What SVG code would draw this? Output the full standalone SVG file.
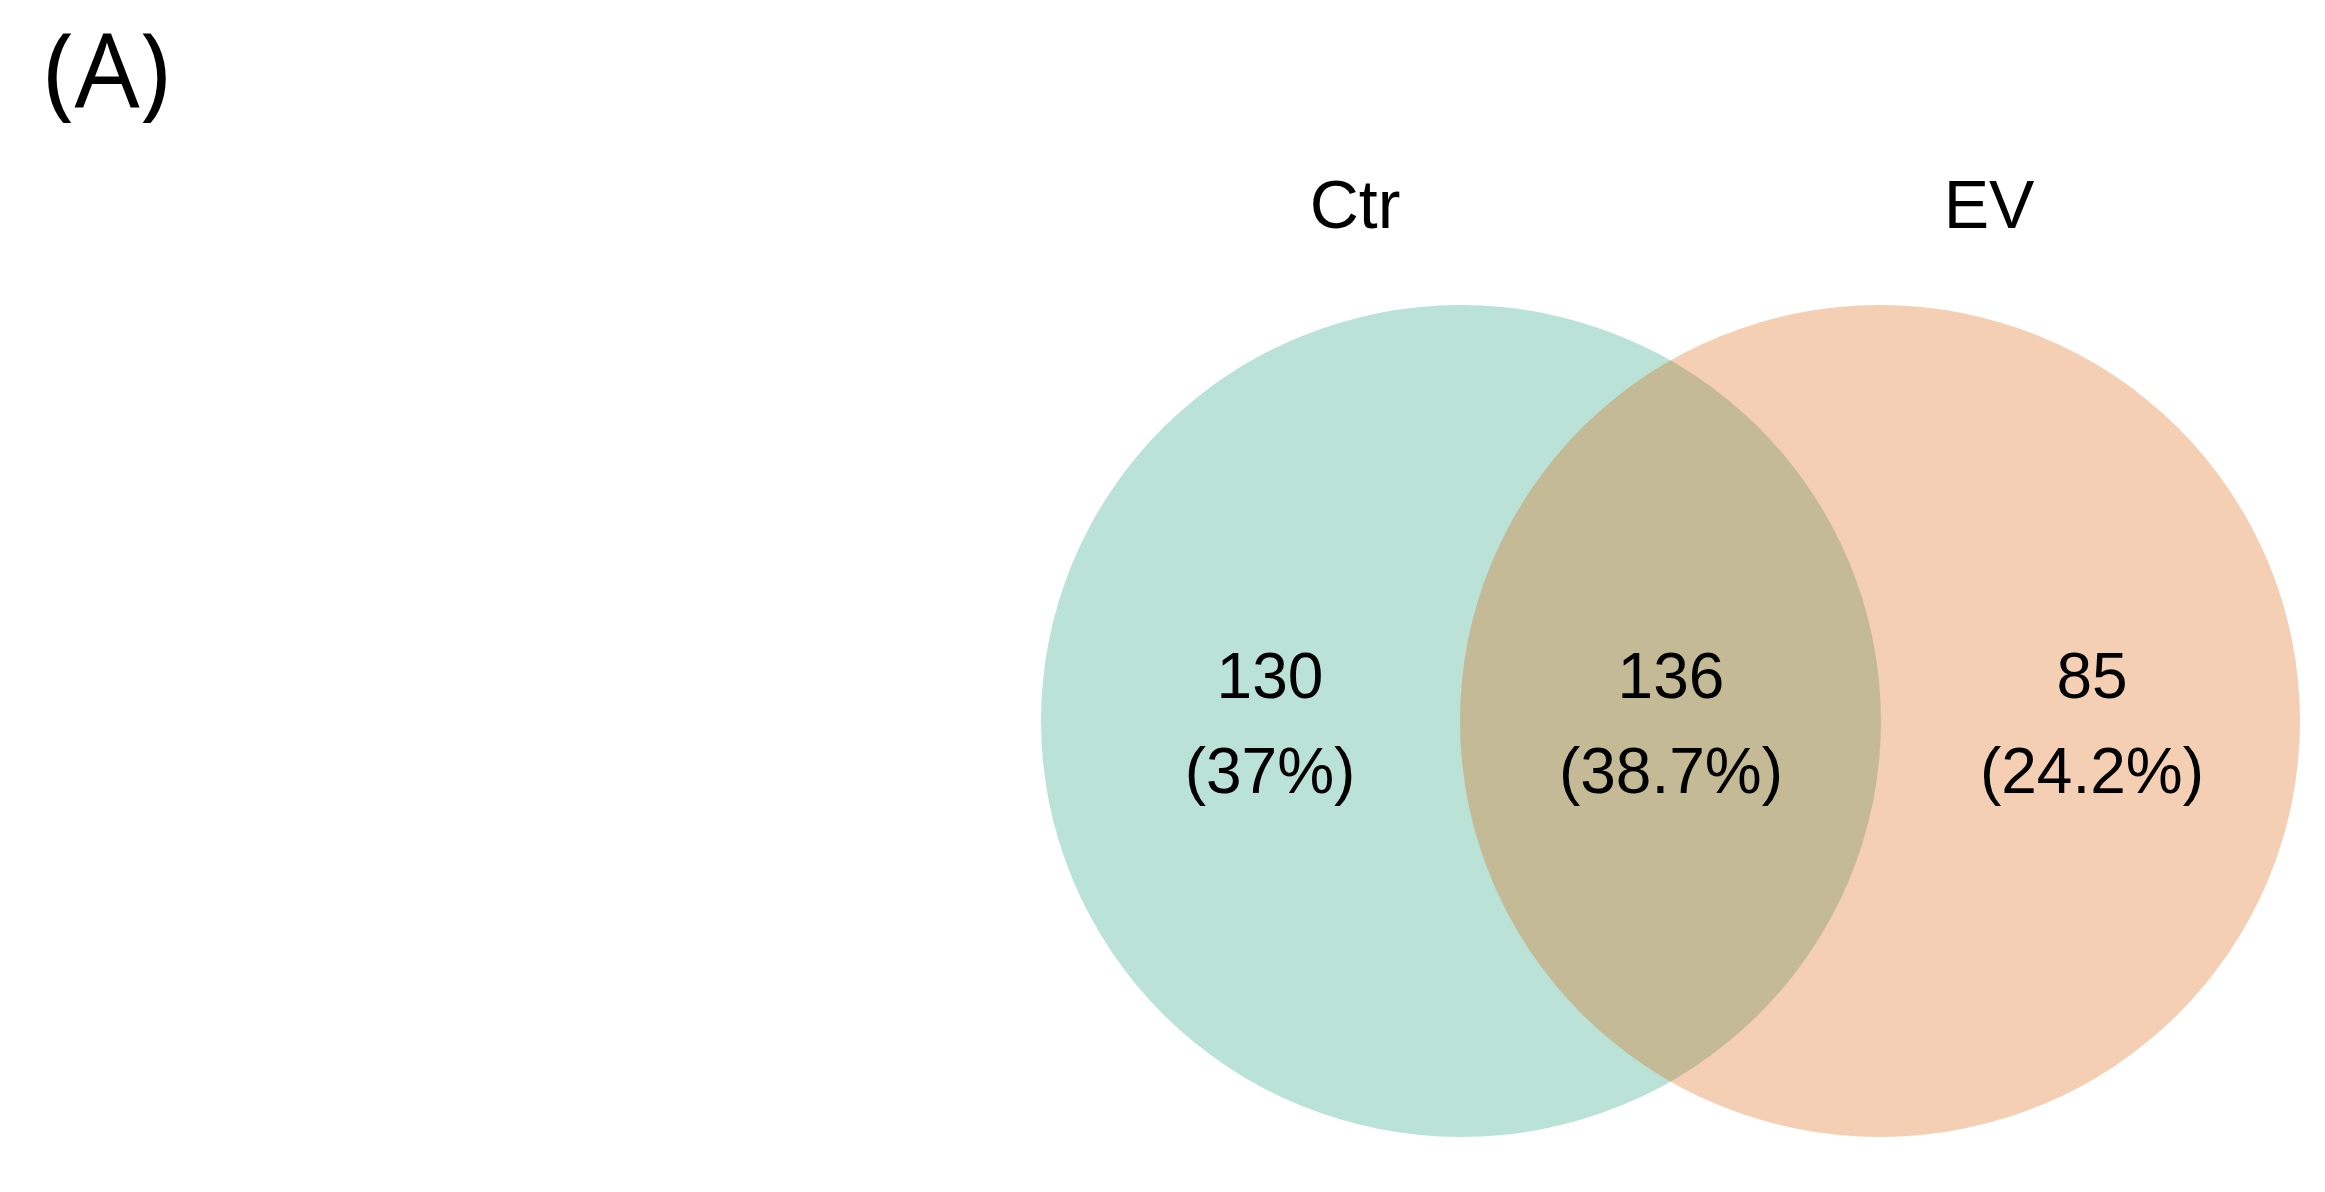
<svg xmlns="http://www.w3.org/2000/svg" width="2325" height="1192" viewBox="0 0 2325 1192">
<style>
.lbl{font-family:"Liberation Sans",Arial,sans-serif;font-size:64px;fill:#000;text-anchor:middle}
.set{font-family:"Liberation Sans",Arial,sans-serif;font-size:68px;fill:#000;text-anchor:middle}
.panel{font-family:"Open Sans","Liberation Sans",sans-serif;font-size:103px;fill:#000}
</style>
<rect width="2325" height="1192" fill="#ffffff"/>
<text class="panel" x="44" y="107">(A)</text>
<g id="set-ctr">
<ellipse cx="1461" cy="721" rx="420" ry="416" fill="#1b9e77" fill-opacity="0.3"/>
<text class="set" x="1355" y="228">Ctr</text>
</g>
<g id="set-ev">
<ellipse cx="1880" cy="721" rx="420" ry="416" fill="#d95f02" fill-opacity="0.3"/>
<text class="set" x="1989" y="228">EV</text>
</g>
<g id="region-ctr-only">
<text class="lbl" x="1270" y="698">130</text>
<text class="lbl" x="1270" y="793">(37%)</text>
</g>
<g id="region-both">
<text class="lbl" x="1671" y="698">136</text>
<text class="lbl" x="1671" y="793">(38.7%)</text>
</g>
<g id="region-ev-only">
<text class="lbl" x="2092" y="698">85</text>
<text class="lbl" x="2092" y="793">(24.2%)</text>
</g>
<g id="connectors"></g>
</svg>
